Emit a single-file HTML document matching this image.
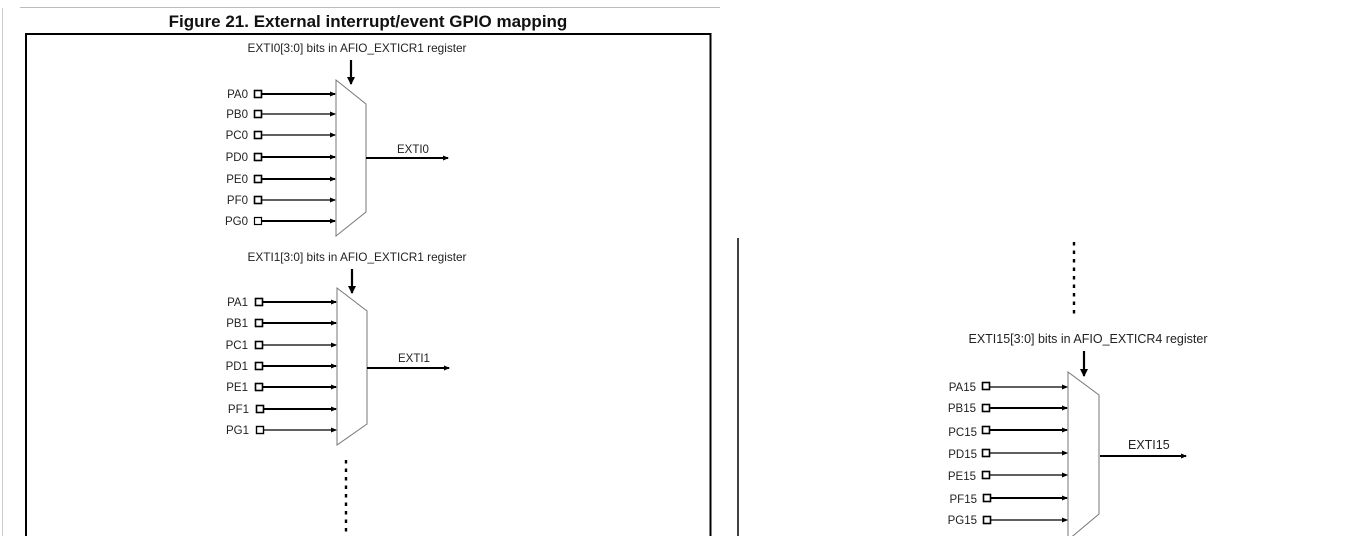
<!DOCTYPE html>
<html><head><meta charset="utf-8"><style>
html,body{margin:0;padding:0;background:#fff;}
svg{display:block;}
text{font-family:"Liberation Sans",sans-serif;fill:#222;}
.l{font-size:11.5px;text-anchor:end;}
.c{font-size:11.8px;text-anchor:middle;}
</style></head><body>
<svg width="1360" height="536" viewBox="0 0 1360 536" xmlns="http://www.w3.org/2000/svg">
<defs>
<marker id="a" markerWidth="6" markerHeight="6" refX="5" refY="3" orient="auto" markerUnits="userSpaceOnUse"><path d="M0,0.5 L6,3 L0,5.5z" fill="#000"/></marker>
<marker id="b" markerWidth="8" markerHeight="8" refX="7" refY="4" orient="auto" markerUnits="userSpaceOnUse"><path d="M0,0 L8,4 L0,8z" fill="#000"/></marker>
</defs>
<line x1="20" y1="7.5" x2="720" y2="7.5" stroke="#bbb" stroke-width="1"/>
<line x1="2.5" y1="8" x2="2.5" y2="536" stroke="#ccc" stroke-width="1"/>
<text x="368" y="27" font-size="17" font-weight="bold" text-anchor="middle" style="fill:#111">Figure 21. External interrupt/event GPIO mapping</text>
<path d="M26,536 V34 H710.5 V536" fill="none" stroke="#000" stroke-width="2"/>

<!-- mux 0 -->
<text class="c" x="357" y="52">EXTI0[3:0] bits in AFIO_EXTICR1 register</text>
<line x1="351" y1="60" x2="351" y2="84" stroke="#000" stroke-width="2.2" marker-end="url(#b)"/>
<path d="M336,80 L366,104 L366,212 L336,236 Z" fill="#fff" stroke="#777" stroke-width="1"/>
<g stroke="#000" fill="none">
<rect x="254.5" y="90.5" width="7" height="7" stroke-width="1.6"/>
<rect x="254.5" y="110.5" width="7" height="7" stroke-width="1.6"/>
<rect x="254.5" y="131.5" width="7" height="7" stroke-width="1.6"/>
<rect x="254.5" y="153.5" width="7" height="7" stroke-width="1.6"/>
<rect x="254.5" y="175.5" width="7" height="7" stroke-width="1.6"/>
<rect x="254.5" y="196.5" width="7" height="7" stroke-width="1.6"/>
<rect x="254.5" y="217.5" width="7" height="7" stroke-width="1.2"/>
<line x1="262" y1="94" x2="335" y2="94" stroke-width="2" marker-end="url(#a)"/>
<line x1="262" y1="114" x2="335" y2="114" stroke-width="1.2" marker-end="url(#a)"/>
<line x1="262" y1="135" x2="335" y2="135" stroke-width="1.2" marker-end="url(#a)"/>
<line x1="262" y1="157" x2="335" y2="157" stroke-width="2" marker-end="url(#a)"/>
<line x1="262" y1="179" x2="335" y2="179" stroke-width="2" marker-end="url(#a)"/>
<line x1="262" y1="200" x2="335" y2="200" stroke-width="1.2" marker-end="url(#a)"/>
<line x1="262" y1="221" x2="335" y2="221" stroke-width="2" marker-end="url(#a)"/>
<line x1="366" y1="158" x2="448" y2="158" stroke-width="2" marker-end="url(#a)"/>
</g>
<text class="l" x="248" y="98">PA0</text><text class="l" x="248" y="118">PB0</text>
<text class="l" x="248" y="139">PC0</text><text class="l" x="248" y="161">PD0</text>
<text class="l" x="248" y="183">PE0</text><text class="l" x="248" y="204">PF0</text>
<text class="l" x="248" y="225">PG0</text>
<text x="397" y="153" font-size="11.5">EXTI0</text>

<!-- mux 1 -->
<text class="c" x="357" y="261">EXTI1[3:0] bits in AFIO_EXTICR1 register</text>
<line x1="352" y1="269" x2="352" y2="293" stroke="#000" stroke-width="2.2" marker-end="url(#b)"/>
<path d="M337,288 L367,311 L367,424 L337,445 Z" fill="#fff" stroke="#777" stroke-width="1"/>
<g stroke="#000" fill="none">
<rect x="255.5" y="298.5" width="7" height="7" stroke-width="1.6"/>
<rect x="255.5" y="319.5" width="7" height="7" stroke-width="1.6"/>
<rect x="255.5" y="341.5" width="7" height="7" stroke-width="1.6"/>
<rect x="255.5" y="362.5" width="7" height="7" stroke-width="1.6"/>
<rect x="255.5" y="383.5" width="7" height="7" stroke-width="1.6"/>
<rect x="256.5" y="405.5" width="7" height="7" stroke-width="1.6"/>
<rect x="256.5" y="426.5" width="7" height="7" stroke-width="1.4"/>
<line x1="263" y1="302" x2="336" y2="302" stroke-width="2" marker-end="url(#a)"/>
<line x1="263" y1="323" x2="336" y2="323" stroke-width="2" marker-end="url(#a)"/>
<line x1="263" y1="345" x2="336" y2="345" stroke-width="1.2" marker-end="url(#a)"/>
<line x1="263" y1="366" x2="336" y2="366" stroke-width="2" marker-end="url(#a)"/>
<line x1="263" y1="387" x2="336" y2="387" stroke-width="2" marker-end="url(#a)"/>
<line x1="264" y1="409" x2="336" y2="409" stroke-width="2" marker-end="url(#a)"/>
<line x1="264" y1="430" x2="336" y2="430" stroke-width="1.2" marker-end="url(#a)"/>
<line x1="367" y1="368" x2="449" y2="368" stroke-width="2" marker-end="url(#a)"/>
</g>
<text class="l" x="248" y="306">PA1</text><text class="l" x="248" y="327">PB1</text>
<text class="l" x="248" y="349">PC1</text><text class="l" x="248" y="370">PD1</text>
<text class="l" x="248" y="391">PE1</text><text class="l" x="249" y="413">PF1</text>
<text class="l" x="249" y="434">PG1</text>
<text x="398" y="362" font-size="11.5">EXTI1</text>
<line x1="346" y1="460" x2="346" y2="536" stroke="#000" stroke-width="2.4" stroke-dasharray="3.5,5"/>

<!-- right -->
<line x1="738" y1="238" x2="738" y2="536" stroke="#000" stroke-width="1.5"/>
<line x1="1074" y1="242" x2="1074" y2="317" stroke="#000" stroke-width="2.4" stroke-dasharray="3.5,5"/>
<text x="1088" y="343" font-size="12.5" text-anchor="middle">EXTI15[3:0] bits in AFIO_EXTICR4 register</text>
<line x1="1084" y1="351" x2="1084" y2="376" stroke="#000" stroke-width="2.2" marker-end="url(#b)"/>
<path d="M1068,372 L1099,395 L1099,514 L1068,540 Z" fill="#fff" stroke="#777" stroke-width="1"/>
<g stroke="#000" fill="none">
<rect x="982.5" y="382.5" width="7" height="7" stroke-width="1.6"/>
<rect x="982.5" y="404.5" width="7" height="7" stroke-width="1.6"/>
<rect x="982.5" y="426.5" width="7" height="7" stroke-width="1.6"/>
<rect x="982.5" y="449.5" width="7" height="7" stroke-width="1.6"/>
<rect x="982.5" y="471.5" width="7" height="7" stroke-width="1.6"/>
<rect x="983.5" y="494.5" width="7" height="7" stroke-width="1.6"/>
<rect x="983.5" y="516.5" width="7" height="7" stroke-width="1.6"/>
<line x1="990" y1="387" x2="1067" y2="387" stroke-width="1.2" marker-end="url(#a)"/>
<line x1="990" y1="408" x2="1067" y2="408" stroke-width="2" marker-end="url(#a)"/>
<line x1="990" y1="430" x2="1067" y2="430" stroke-width="2" marker-end="url(#a)"/>
<line x1="990" y1="453" x2="1067" y2="453" stroke-width="1.2" marker-end="url(#a)"/>
<line x1="990" y1="475" x2="1067" y2="475" stroke-width="1.2" marker-end="url(#a)"/>
<line x1="991" y1="498" x2="1067" y2="498" stroke-width="2" marker-end="url(#a)"/>
<line x1="991" y1="520" x2="1067" y2="520" stroke-width="1.2" marker-end="url(#a)"/>
<line x1="1100" y1="456" x2="1186" y2="456" stroke-width="2" marker-end="url(#a)"/>
</g>
<text class="l" x="976" y="391">PA15</text><text class="l" x="976" y="412">PB15</text>
<text class="l" x="977" y="436">PC15</text><text class="l" x="977" y="458">PD15</text>
<text class="l" x="976" y="480">PE15</text><text class="l" x="977" y="503">PF15</text>
<text class="l" x="977" y="524">PG15</text>
<text x="1128" y="449" font-size="12.5">EXTI15</text>
</svg>
</body></html>
